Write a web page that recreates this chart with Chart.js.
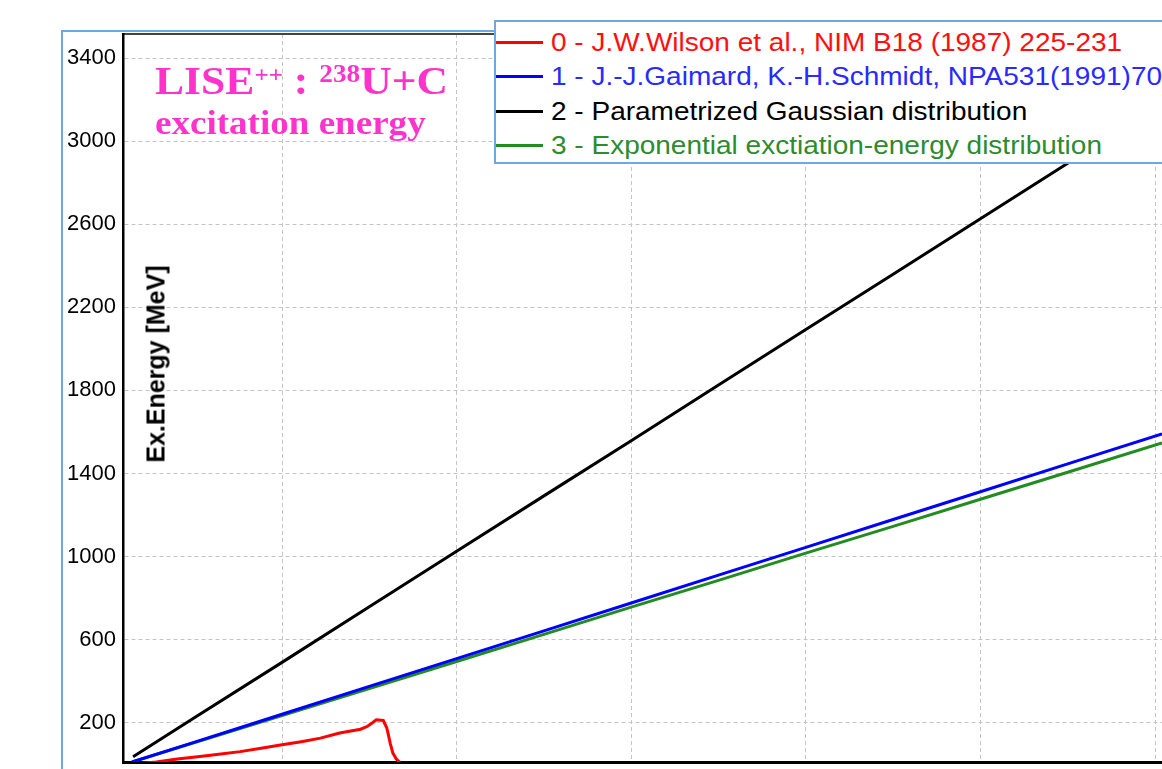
<!DOCTYPE html>
<html>
<head>
<meta charset="utf-8">
<script src="https://cdn.jsdelivr.net/npm/chart.js@4.4.1/dist/chart.umd.min.js"></script>
<style>
html,body{margin:0;padding:0;background:#fff;overflow:hidden;width:1162px;height:769px;}
#frame{position:absolute;left:61px;top:30px;width:1300px;height:900px;border-left:2px solid #6fa8dc;border-top:2px solid #6fa8dc;box-sizing:border-box;}
#wrap{position:absolute;left:0;top:0;width:1162px;height:769px;}
#ytitle{position:absolute;left:156px;top:364px;transform:translate(-50%,-50%) rotate(-90deg);font:bold 25px 'Liberation Sans',Arial,sans-serif;white-space:nowrap;color:#000;line-height:25px;}
.pink{position:absolute;left:155px;color:#ff33cc;font-family:'Liberation Serif','Times New Roman',serif;font-weight:bold;white-space:nowrap;transform:scaleX(1.09);transform-origin:0 0;}
.sup{vertical-align:12px;line-height:0;}
#legend{position:absolute;left:494px;top:20px;width:720px;height:140px;border:2px solid #6fa8dc;background:#fff;}
.lgline{position:absolute;left:0;width:47px;height:3px;}
.lgtext{position:absolute;left:55px;font:25px 'Liberation Sans',Arial,sans-serif;line-height:25px;white-space:nowrap;transform:scaleX(1.12);transform-origin:0 0;}
</style>
</head>
<body>
<div id="frame"></div>
<div id="wrap"><canvas id="c" width="1162" height="769"></canvas></div>
<div id="ytitle">Ex.Energy [MeV]</div>
<div class="pink" style="top:60.5px;font-size:40px;line-height:40px;">LISE<span class="sup" style="font-size:23px;">++</span> : <span class="sup" style="font-size:25px;">238</span>U+C</div>
<div class="pink" style="top:105.5px;font-size:34px;line-height:34px;">excitation energy</div>
<div id="legend"></div>
<script>
// ---- data ----
const seriesLabels = [
  "0 - J.W.Wilson et al., NIM B18 (1987) 225-231",
  "1 - J.-J.Gaimard, K.-H.Schmidt, NPA531(1991)709",
  "2 - Parametrized Gaussian distribution",
  "3 - Exponential exctiation-energy distribution"
];
const seriesColors = ["#ff0000", "#0000ff", "#000000", "#228b22"];
const legendTextColors = ["#ff1010", "#2a2aff", "#000000", "#2e8b2e"];

// x: abrasion axis (labels not visible in the reference), y: excitation energy [MeV]
const wilsonX  = [1.5, 2.8, 4.0, 5.3, 6.5, 7.6, 8.8, 10.0, 11.1, 12.2, 13.3, 14.5, 14.9, 15.2, 15.4, 15.8, 16.0, 16.2, 16.35, 16.55, 16.75];
const wilsonE  = [0, 10, 24, 36, 48, 60, 76, 93, 108, 125, 150, 168, 182, 200, 213, 210, 175, 100, 53, 24, 8];

const gaimardX = [1.41, 5, 10, 15, 20, 25, 30, 35, 40, 45, 50, 55, 60.4];
const gaimardE = [10, 106, 240, 374, 508, 642, 776, 910, 1044, 1178, 1312, 1446, 1591];

const gaussX   = [1.47, 5, 10, 15, 20, 25, 30, 35, 40, 45, 50, 55, 60.4];
const gaussE   = [35, 224, 490, 758, 1025, 1292, 1558, 1826, 2093, 2360, 2627, 2894, 3182];

const expoX    = [1.41, 5, 10, 15, 20, 25, 30, 35, 40, 45, 50, 55, 60.4];
const expoE    = [10, 104, 234, 364, 494, 625, 756, 885, 1016, 1145, 1276, 1406, 1547];

const yTickValues = [200, 600, 1000, 1400, 1800, 2200, 2600, 3000, 3400];
const xGridValues = [10, 20, 30, 40, 50, 60];
const xRange = [0.893, 60.4];
const yRange = [10, 3517];

function zip(xs, ys){ return xs.map((x,i)=>({x:x, y:ys[i]})); }
const seriesData = [zip(wilsonX, wilsonE), zip(gaimardX, gaimardE), zip(gaussX, gaussE), zip(expoX, expoE)];

const datasets = seriesLabels.map((lab, i) => ({
  label: lab,
  data: seriesData[i],
  borderColor: seriesColors[i],
  backgroundColor: seriesColors[i],
  borderWidth: 3,
  pointRadius: 0,
  tension: 0,
  fill: false
}));

const gridCommon = {color:'#c4c4c4', lineWidth:1, drawTicks:false};
const fontFam = "'Liberation Sans', Arial, sans-serif";

const chart = new Chart(document.getElementById('c'), {
  type: 'line',
  data: {datasets: datasets},
  options: {
    responsive: false,
    animation: false,
    layout: {padding: {left: 0, top: 34, right: 0, bottom: 7}},
    plugins: {legend: {display: false}, tooltip: {enabled: false}},
    scales: {
      x: {
        type: 'linear', min: xRange[0], max: xRange[1],
        afterBuildTicks: s => { s.ticks = xGridValues.map(v => ({value: v})); },
        afterFit: s => { s.paddingLeft = 0; s.paddingRight = 0; },
        ticks: {display: false},
        grid: gridCommon,
        border: {color: '#000', width: 3, dash: [4, 3]}
      },
      x2: {
        type: 'linear', position: 'top', min: xRange[0], max: xRange[1],
        ticks: {display: false},
        grid: {display: false, drawTicks: false},
        border: {color: '#444', width: 2}
      },
      y: {
        type: 'linear', min: yRange[0], max: yRange[1],
        afterBuildTicks: s => { s.ticks = yTickValues.map(v => ({value: v})); },
        afterFit: s => { s.width = 123; s.paddingTop = 0; s.paddingBottom = 0; },
        ticks: {color: '#000', padding: 7, font: {family: fontFam, size: 22}, callback: v => String(v)},
        grid: gridCommon,
        border: {color: '#000', width: 2.5, dash: [4, 3]}
      }
    }
  }
});

// legend built from the chart's datasets
const lg = document.getElementById('legend');
const baselines = [29, 63, 98, 132];
chart.data.datasets.forEach((ds, i) => {
  const ln = document.createElement('div');
  ln.className = 'lgline';
  ln.style.top = (baselines[i] - 10.5) + 'px';
  ln.style.background = ds.borderColor;
  lg.appendChild(ln);
  const tx = document.createElement('div');
  tx.className = 'lgtext';
  tx.style.top = (baselines[i] - 21.2) + 'px';
  tx.style.color = legendTextColors[i];
  tx.textContent = ds.label;
  lg.appendChild(tx);
});
</script>
</body>
</html>
